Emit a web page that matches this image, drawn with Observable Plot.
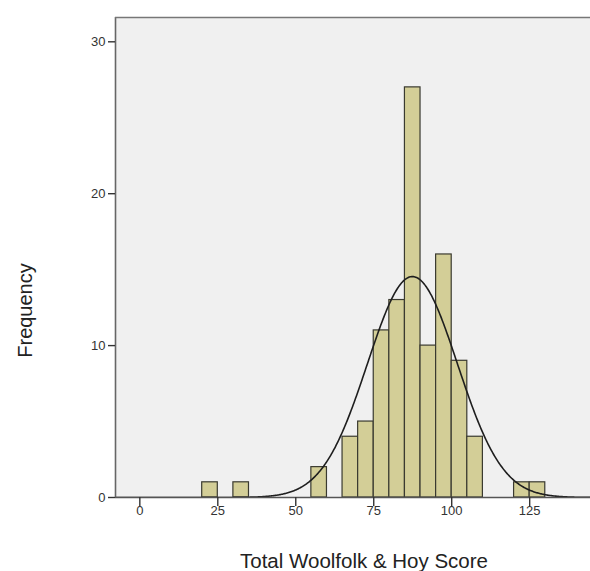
<!DOCTYPE html>
<html>
<head>
<meta charset="utf-8">
<script src="https://cdn.jsdelivr.net/npm/d3@7"></script>
<script src="https://cdn.jsdelivr.net/npm/@observablehq/plot@0.6"></script>
<style>
  html, body { margin: 0; padding: 0; background: #fff; }
  #chart svg { display: block; }
</style>
</head>
<body>
<div id="chart"></div>
<script>
// Histogram bins (lower edge of each 5-point bin) and counts
const binStart = [20, 30, 55, 65, 70, 75, 80, 85, 90, 95, 100, 105, 120, 125];
const frequency = [1, 1, 2, 4, 5, 11, 13, 27, 10, 16, 9, 4, 1, 1];
const binWidth = 5;

// Axis ticks
const xTicks = [0, 25, 50, 75, 100, 125];
const yTicks = [0, 10, 20, 30];

// Fitted normal curve parameters (mean, std. dev., N)
const curveMean = 87.4;
const curveSD = 14.4;
const curveN = 105;

const xDomain = [-7.8, 144.5];
const yDomain = [0, 31.6];

const bins = binStart.map((s, i) => ({x1: s, x2: s + binWidth, count: frequency[i]}));
const curve = d3.range(xDomain[0], xDomain[1] + 0.25, 0.25).map(x => ({
  x,
  y: curveN * binWidth / (curveSD * Math.sqrt(2 * Math.PI)) *
     Math.exp(-((x - curveMean) ** 2) / (2 * curveSD ** 2))
}));

const chart = Plot.plot({
  width: 590,
  height: 571,
  marginLeft: 115,
  marginRight: 0,
  marginTop: 17,
  marginBottom: 74,
  style: {background: "#fff", fontFamily: "'Liberation Sans', Arial, sans-serif", fontSize: "13px", color: "#333"},
  x: {domain: xDomain},
  y: {domain: yDomain},
  marks: [
    Plot.frame({fill: "#F0F0F0", stroke: null}),
    Plot.rectY(bins, {x1: "x1", x2: "x2", y: "count", fill: "#D3CE97", stroke: "#3a3a30", strokeWidth: 1.2}),
    Plot.line(curve, {x: "x", y: "y", stroke: "#1e1e1e", strokeWidth: 1.6, clip: true}),
    Plot.ruleX([xDomain[0]], {stroke: "#666", strokeWidth: 1.6}),
    Plot.ruleY([yDomain[1]], {stroke: "#777", strokeWidth: 1.6}),
    Plot.ruleY([0], {stroke: "#555", strokeWidth: 1.4}),
    Plot.axisX({ticks: xTicks, tickSize: 9, tickFormat: () => "", label: null, stroke: "#333", strokeWidth: 1.4}),
    Plot.axisY({ticks: yTicks, tickSize: 7, tickFormat: () => "", label: null, stroke: "#333", strokeWidth: 1.4}),
    Plot.text(xTicks, {x: d => d, frameAnchor: "bottom", dy: 17, fontSize: 13, fill: "#333"}),
    Plot.text(yTicks, {y: d => d, frameAnchor: "left", dx: -10, textAnchor: "end", fontSize: 13, fill: "#333"}),
    Plot.text(["Frequency"], {frameAnchor: "left", textAnchor: "middle", dx: -90, dy: 53, rotate: -90, fontSize: 20, fill: "#222"}),
    Plot.text(["Total Woolfolk & Hoy Score"], {frameAnchor: "bottom", dy: 70, dx: 11, fontSize: 20.5, fill: "#222"})
  ]
});

document.getElementById("chart").appendChild(chart);
</script>
</body>
</html>
